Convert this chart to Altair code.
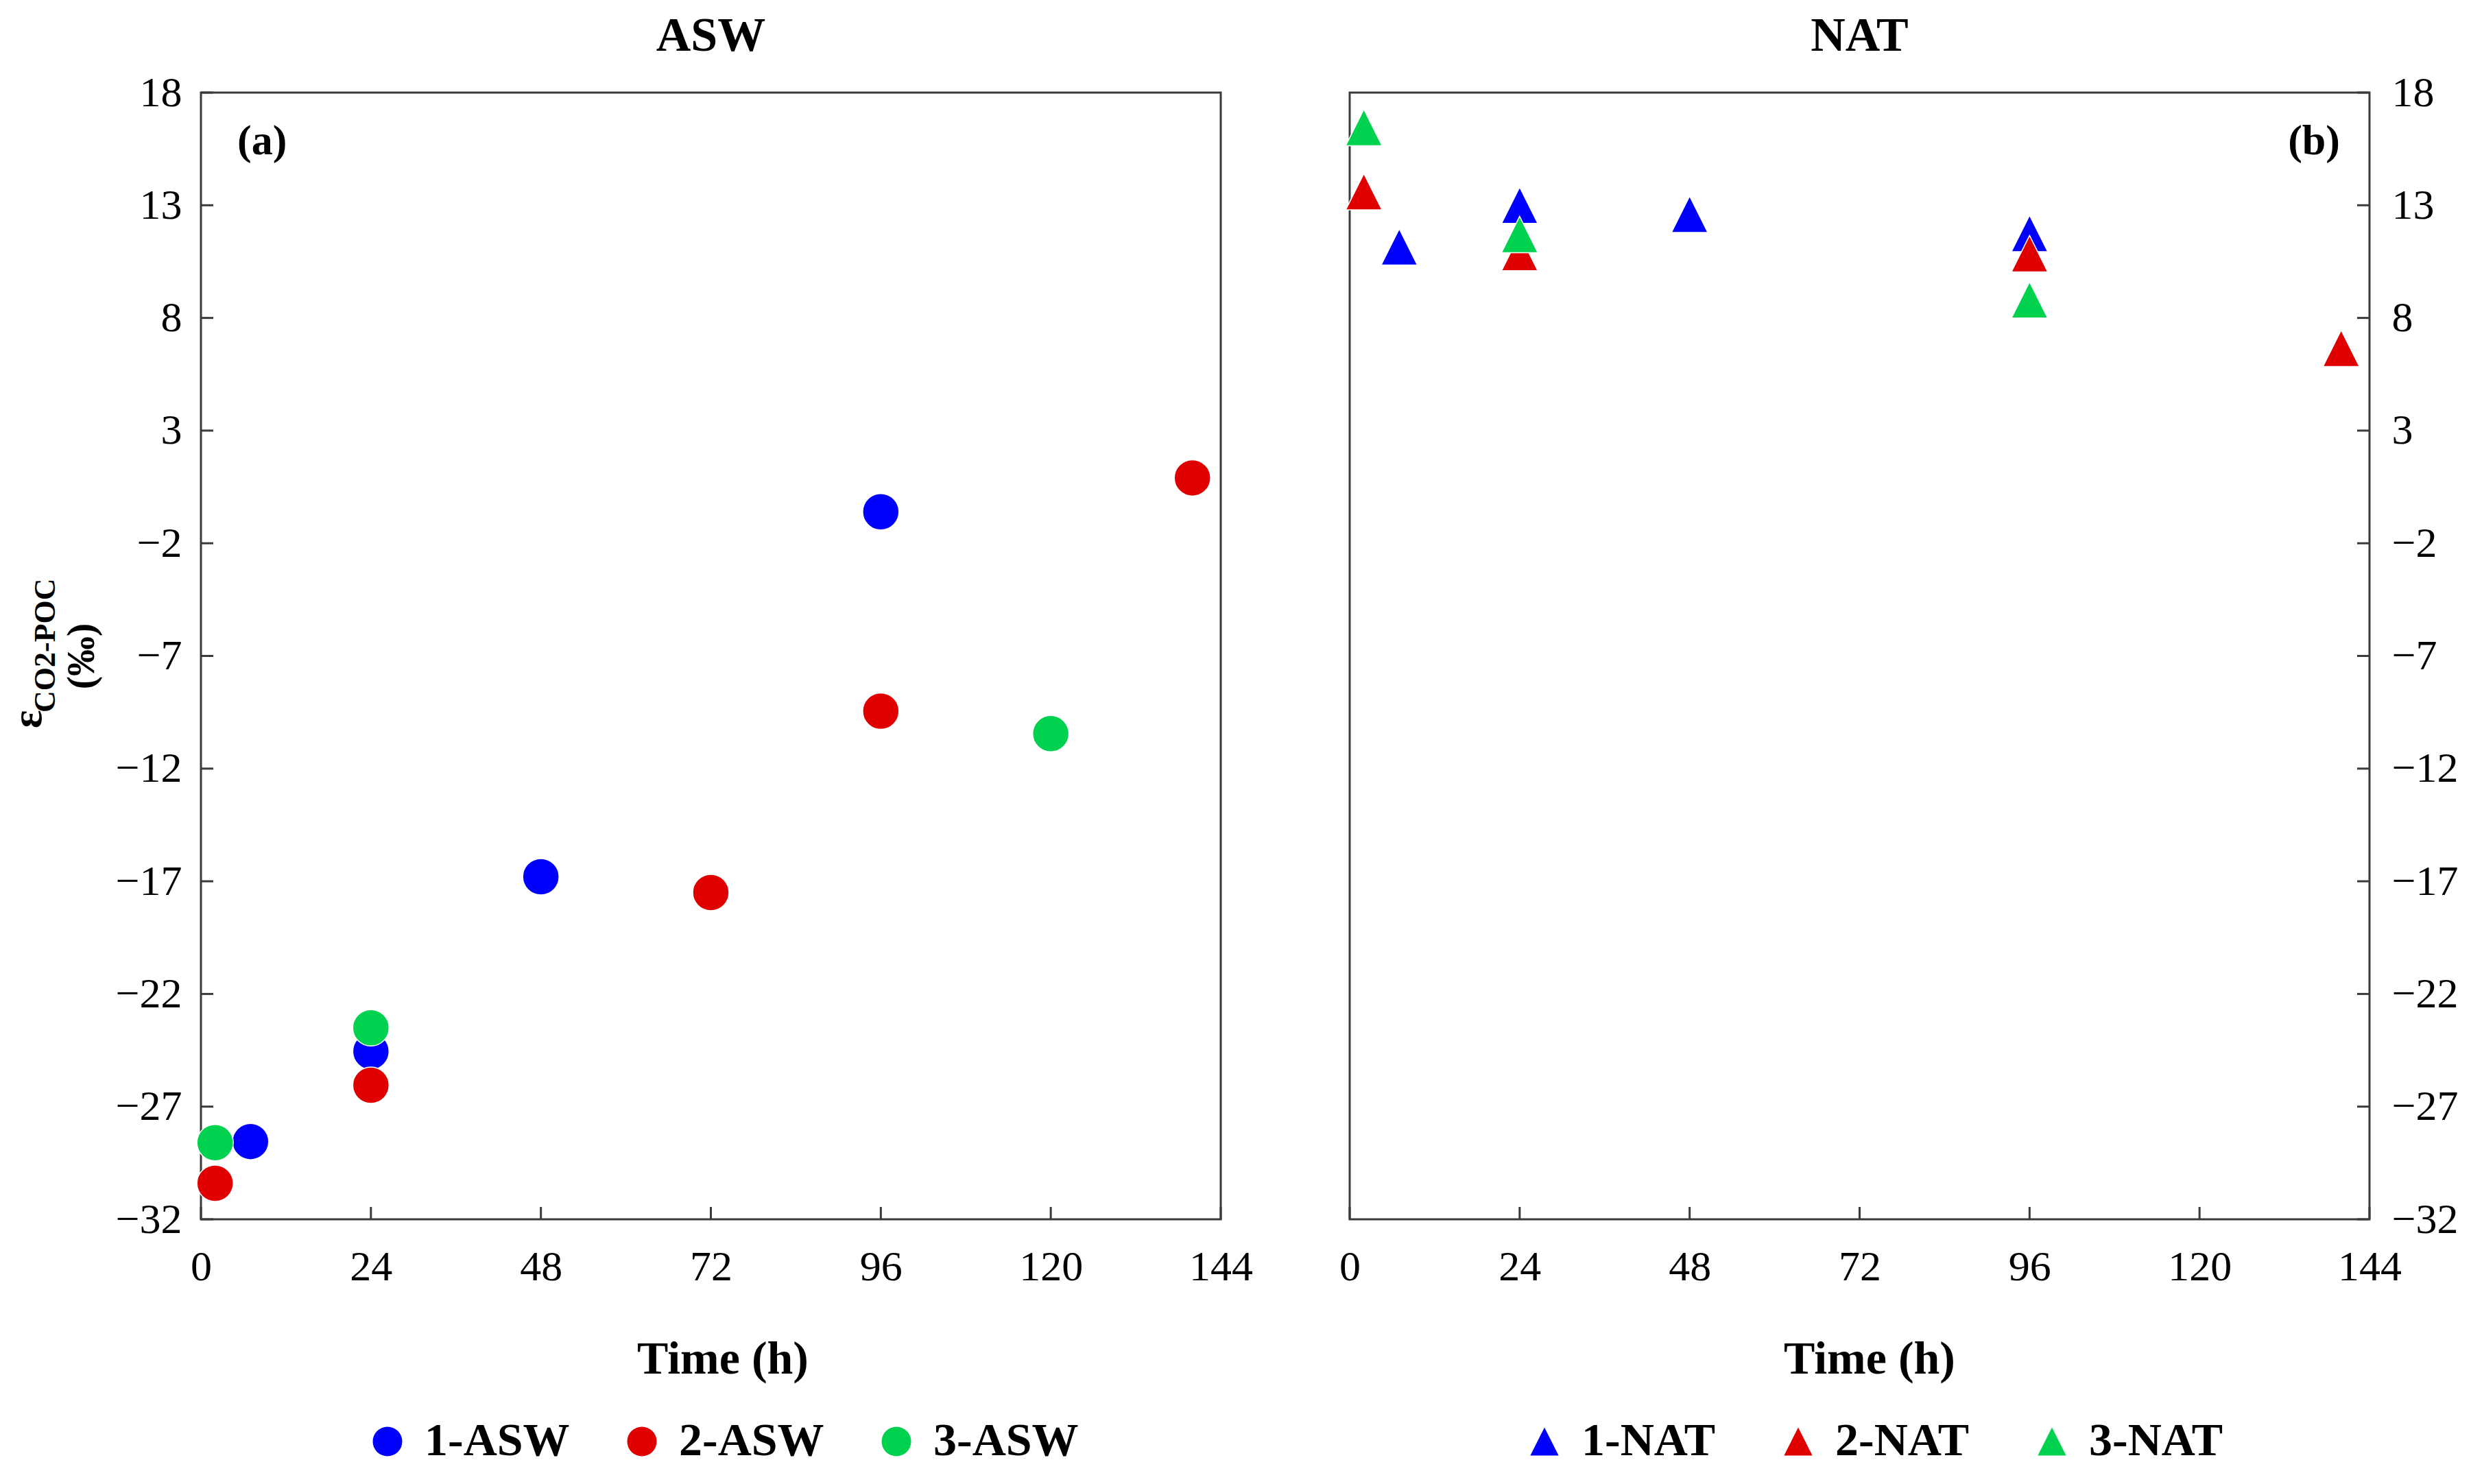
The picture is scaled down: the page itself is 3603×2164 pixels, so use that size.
import altair as alt
import pandas as pd

# ---------------- data ----------------
x_ticks = [0, 24, 48, 72, 96, 120, 144]
y_ticks = [-32, -27, -22, -17, -12, -7, -2, 3, 8, 13, 18]

asw_names = ["1-ASW", "2-ASW", "3-ASW"]
asw1_time = [7, 24, 48, 96]
asw1_eps = [-28.55, -24.55, -16.8, -0.6]
asw2_time = [2, 24, 72, 96, 140]
asw2_eps = [-30.4, -26.05, -17.5, -9.45, 0.9]
asw3_time = [2, 24, 120]
asw3_eps = [-28.6, -23.5, -10.45]

nat_names = ["1-NAT", "2-NAT", "3-NAT"]
nat1_time = [7, 24, 48, 96]
nat1_eps = [11.15, 13.0, 12.6, 11.75]
nat2_time = [2, 24, 96, 140]
nat2_eps = [13.6, 10.9, 10.85, 6.65]
nat3_time = [2, 24, 96]
nat3_eps = [16.45, 11.7, 8.8]

colors = ["#0000FF", "#E00000", "#00D14F"]


def frame(names, series):
    rows = []
    for name, (ts, vs) in zip(names, series):
        for t, v in zip(ts, vs):
            rows.append({"series": name, "time": t, "eps": v})
    return pd.DataFrame(rows)


df_asw = frame(asw_names, [(asw1_time, asw1_eps), (asw2_time, asw2_eps), (asw3_time, asw3_eps)])
df_nat = frame(nat_names, [(nat1_time, nat1_eps), (nat2_time, nat2_eps), (nat3_time, nat3_eps)])
df_xt = pd.DataFrame({"time": x_ticks})
df_yt = pd.DataFrame({"eps": y_ticks})

# ---------------- style ----------------
FONT = "Liberation Serif"
AX = "#3a3a3a"
W, H = 1487, 1643
TICK = 18
TRI = "M0,-1L1,1L-1,1Z"

xs = alt.Scale(domain=[0, 144], nice=False, zero=False)
ys = alt.Scale(domain=[-32, 18], nice=False, zero=False)


def x_axis(dx):
    return alt.Axis(values=x_ticks, ticks=False, domain=False, grid=False,
                    labelFont=FONT, labelFontSize=62, labelColor="black",
                    labelPadding=39, labelFlush=False, labelOverlap=False,
                    title="Time (h)", titleFont=FONT, titleFontSize=68,
                    titleFontWeight="bold", titleColor="black",
                    titleX=W / 2 + dx, titleY=224, titleBaseline="alphabetic")


def y_axis(orient):
    kw = dict(values=y_ticks, ticks=False, domain=False, grid=False,
              labelFont=FONT, labelFontSize=62, labelColor="black",
              labelPadding=28, labelFlush=False, labelOverlap=False,
              title=None, orient=orient)
    if orient == "right":
        kw["labelAlign"] = "left"
        kw["labelPadding"] = 32
        kw["labelExpr"] = "datum.value >= 0 ? '\u2002' + datum.label : datum.label"
    return alt.Axis(**kw)


def legend(x, sym, size, pad):
    return alt.Legend(orient="none", legendX=x, legendY=1933, direction="horizontal",
                      columns=3, title=None, padding=0,
                      labelFont=FONT, labelFontSize=68, labelFontWeight="bold",
                      labelColor="black", labelOffset=20, columnPadding=pad,
                      symbolType=sym, symbolSize=size, symbolStrokeWidth=0,
                      symbolOpacity=1, labelLimit=0)


def ticks_layers(orient, dx):
    xt = alt.Chart(df_xt).mark_rule(color=AX, strokeWidth=3).encode(
        x=alt.X("time:Q", scale=xs, axis=x_axis(dx)),
        y=alt.value(H), y2=alt.value(H - TICK))
    if orient == "right":
        x0, x1 = W, W - TICK
    else:
        x0, x1 = 0, TICK
    yt = alt.Chart(df_yt).mark_rule(color=AX, strokeWidth=3).encode(
        y=alt.Y("eps:Q", scale=ys, axis=y_axis(orient)),
        x=alt.value(x0), x2=alt.value(x1))
    return [xt, yt]


def label(text, x, y, size, align="left", angle=0):
    return alt.Chart(pd.DataFrame({"s": [text]})).mark_text(
        font=FONT, fontSize=size, fontWeight="bold", color="black",
        align=align, baseline="alphabetic", angle=angle).encode(
        text="s:N", x=alt.value(x), y=alt.value(y))


def title(text):
    return alt.TitleParams(text, font=FONT, fontSize=70, fontWeight="bold", color="black",
                           anchor="middle", frame="group", baseline="alphabetic", offset=-40)


# ---------------- left panel ----------------
pts_asw = alt.Chart(df_asw).mark_point(shape="circle", filled=True, size=2809, opacity=1,
                                       stroke="white", strokeWidth=1.5).encode(
    x=alt.X("time:Q", scale=xs, axis=x_axis(17)),
    y=alt.Y("eps:Q", scale=ys, axis=y_axis("left")),
    color=alt.Color("series:N", scale=alt.Scale(domain=asw_names, range=colors),
                    legend=legend(238, "circle", 1849, 71)),
)

left = alt.layer(
    pts_asw,
    *ticks_layers("left", 17),
    label("(a)", 53, 90, 62),
    label("ε", -233, 927, 62, angle=270),
    label("CO2-POC", -213, 904, 44, angle=270),
    label("(‰)", -156, 822, 58, align="center", angle=270),
).properties(width=W, height=H, title=title("ASW"))

# ---------------- right panel ----------------
pts_nat = alt.Chart(df_nat).mark_point(shape=TRI, filled=True, size=2809, opacity=1,
                                       stroke="white", strokeWidth=1.5).encode(
    x=alt.X("time:Q", scale=xs, axis=x_axis(14)),
    y=alt.Y("eps:Q", scale=ys, axis=y_axis("right")),
    color=alt.Color("series:N", scale=alt.Scale(domain=nat_names, range=colors),
                    legend=legend(250, TRI, 1700, 86)),
)

right = alt.layer(
    pts_nat,
    *ticks_layers("right", 14),
    label("(b)", W - 43, 90, 62, align="right"),
).properties(width=W, height=H, title=title("NAT"))

chart = alt.hconcat(left, right, spacing=188, bounds="flush").resolve_scale(
    color="independent").resolve_legend(color="independent").properties(
    padding={"left": 0, "top": 8, "right": 5, "bottom": 5},
    background="white",
).configure_view(stroke=AX, strokeWidth=3)

chart.save("out.html", embed_options={"renderer": "svg", "actions": False})
